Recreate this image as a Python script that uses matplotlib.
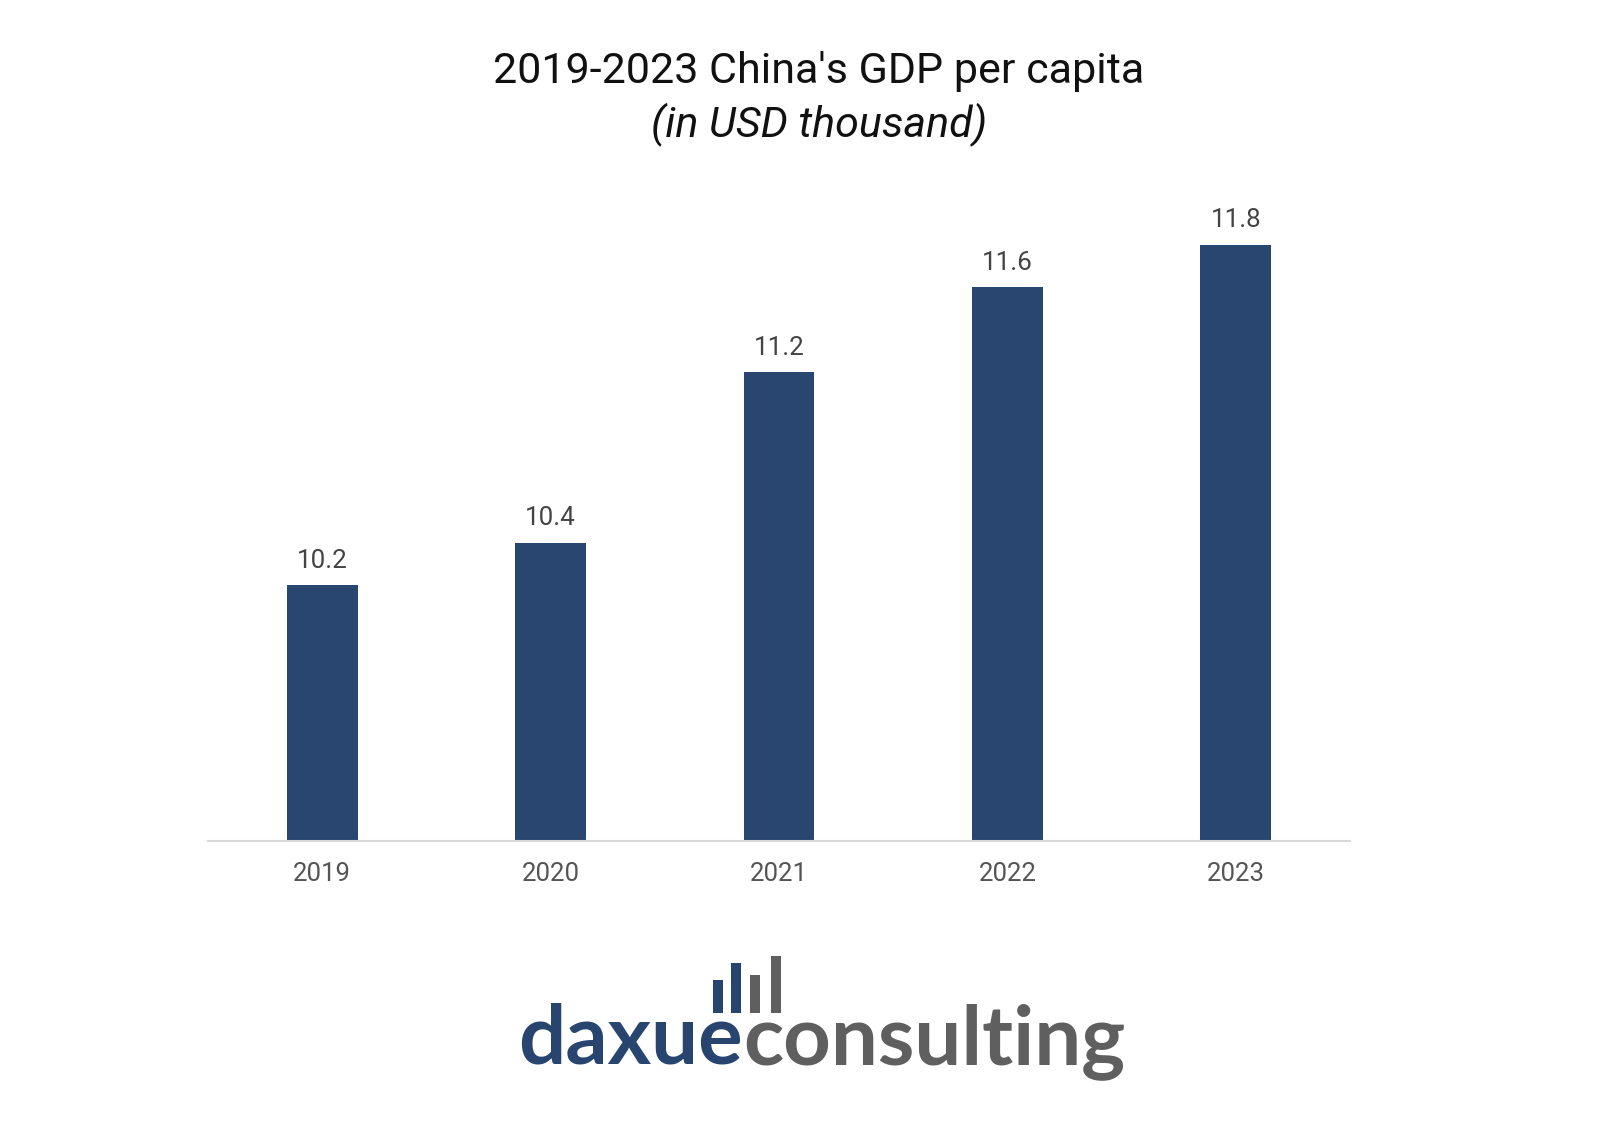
import matplotlib.pyplot as plt
from matplotlib.patches import Rectangle

years = ["2019", "2020", "2021", "2022", "2023"]
gdp_per_capita = [10.2, 10.4, 11.2, 11.6, 11.8]
labels = ["10.2", "10.4", "11.2", "11.6", "11.8"]

BAR_COLOR = "#28466f"
LOGO_BLUE = "#27456f"
LOGO_GRAY = "#5f5f5f"


def main():
    plt.rcParams['font.family'] = ['Roboto', 'DejaVu Sans']
    fig = plt.figure(figsize=(16.12, 11.22), dpi=100)
    ax = fig.add_axes([0.129, 0.2504, 0.7085, 0.5696])

    x = list(range(len(years)))
    ax.bar(x, gdp_per_capita, width=0.31, color=BAR_COLOR, bottom=0)
    ax.set_ylim(9, 12)
    ax.set_xlim(-0.5, 4.5)

    for xi, v, lab in zip(x, gdp_per_capita, labels):
        ax.annotate(lab, (xi, v), xytext=(0, 9), textcoords='offset points',
                    ha='center', va='bottom', fontsize=18.7, color='#444444')

    ax.set_xticks(x)
    ax.set_xticklabels(years, fontsize=18.5, color='#555555')
    ax.tick_params(axis='x', length=0, pad=15)
    ax.set_yticks([])
    for side in ['top', 'right', 'left']:
        ax.spines[side].set_visible(False)
    ax.spines['bottom'].set_color('#d9d9d9')
    ax.spines['bottom'].set_linewidth(1.5)

    # title
    fig.text(0.508, 1 - 72 / 1122, "2019-2023 China's GDP per capita",
             ha='center', va='center', fontsize=31, color='#111111')
    fig.text(0.508, 1 - 125 / 1122, "(in USD thousand)", ha='center',
             va='center', fontsize=31, style='italic', color='#111111')

    # logo
    W, H = 1612, 1122
    split = 743 / W
    base = 1 - 1064 / H
    fig.text(split, base, "daxue", ha='right', va='baseline', fontsize=60,
             fontweight='bold', family='Lato', color=LOGO_BLUE)
    fig.text(split, base, "consulting", ha='left', va='baseline', fontsize=60,
             fontweight='bold', family='Lato', color=LOGO_GRAY)
    logo_bars = [(713, 980, LOGO_BLUE), (731, 963, LOGO_BLUE),
                 (750, 975, LOGO_GRAY), (771, 956, LOGO_GRAY)]
    for bx, top, c in logo_bars:
        fig.add_artist(Rectangle((bx / W, 1 - 1013 / H), 10 / W,
                                 (1013 - top) / H, transform=fig.transFigure,
                                 color=c, lw=0))

    fig.savefig("out.png", dpi=100, facecolor='white')


if __name__ == "__main__":
    main()
